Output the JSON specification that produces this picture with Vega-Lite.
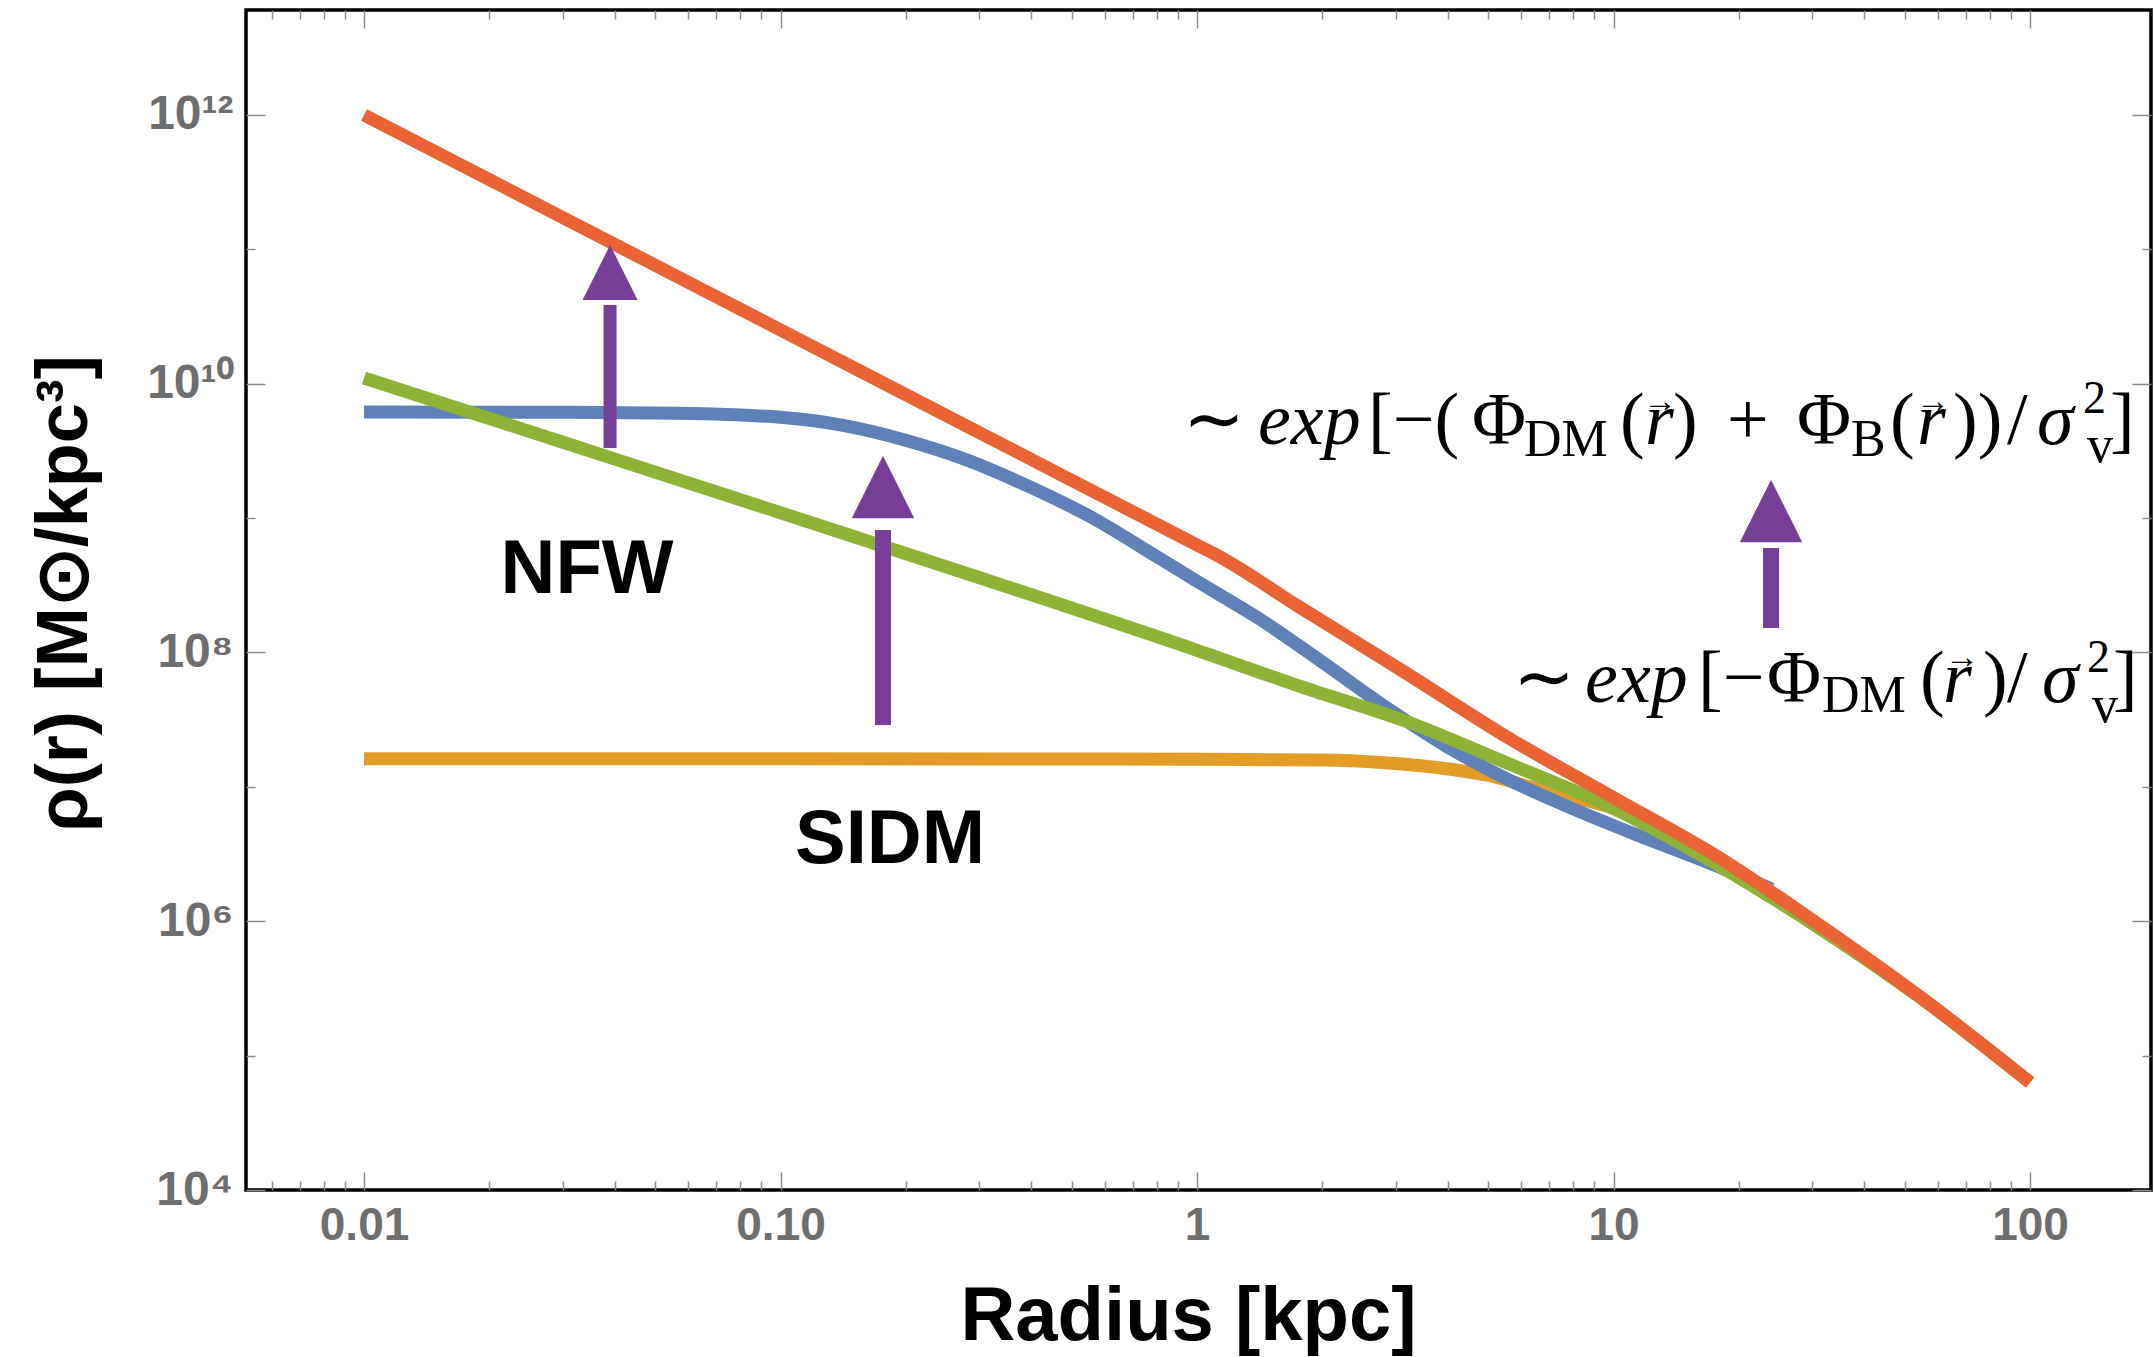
{
  "$schema": "https://vega.github.io/schema/vega-lite/v6.json",
  "width": 1905,
  "height": 1180,
  "autosize": {"type": "none"},
  "padding": {"left": 246, "top": 10, "right": 3, "bottom": 167},
  "background": "white",
  "config": {"view": {"stroke": "black", "strokeWidth": 3.5}, "axis": {"grid": false}},
  "datasets": {
    "curves": [
      {"series": "SIDM", "r": 0.01, "rho": 1.622e7},
      {"series": "SIDM", "r": 0.1, "rho": 1.622e7},
      {"series": "SIDM", "r": 1, "rho": 1.603e7},
      {"series": "SIDM", "r": 1.9953, "rho": 1.585e7},
      {"series": "SIDM", "r": 2.8184, "rho": 1.514e7},
      {"series": "SIDM", "r": 3.9811, "rho": 1.365e7},
      {"series": "SIDM", "r": 5.0119, "rho": 1.216e7},
      {"series": "SIDM", "r": 6.3096, "rho": 1.0e7},
      {"series": "SIDM", "r": 7.9433, "rho": 8.414e6},
      {"series": "SIDM", "r": 10, "rho": 6.918e6},
      {"series": "SIDM", "r": 17.783, "rho": 2.63e6},
      {"series": "SIDM", "r": 31.623, "rho": 8.67e5},
      {"series": "SIDM", "r": 56.234, "rho": 2.523e5},
      {"series": "SIDM", "r": 100, "rho": 6.31e4},
      {"series": "SIDM+baryons", "r": 0.01, "rho": 6.166e9},
      {"series": "SIDM+baryons", "r": 0.031623, "rho": 6.124e9},
      {"series": "SIDM+baryons", "r": 0.056234, "rho": 6.026e9},
      {"series": "SIDM+baryons", "r": 0.1, "rho": 5.623e9},
      {"series": "SIDM+baryons", "r": 0.14125, "rho": 4.898e9},
      {"series": "SIDM+baryons", "r": 0.19953, "rho": 3.802e9},
      {"series": "SIDM+baryons", "r": 0.28184, "rho": 2.692e9},
      {"series": "SIDM+baryons", "r": 0.39811, "rho": 1.698e9},
      {"series": "SIDM+baryons", "r": 0.56234, "rho": 1.0e9},
      {"series": "SIDM+baryons", "r": 0.79433, "rho": 5.248e8},
      {"series": "SIDM+baryons", "r": 1, "rho": 3.388e8},
      {"series": "SIDM+baryons", "r": 1.4125, "rho": 1.778e8},
      {"series": "SIDM+baryons", "r": 1.9953, "rho": 8.511e7},
      {"series": "SIDM+baryons", "r": 2.8184, "rho": 3.981e7},
      {"series": "SIDM+baryons", "r": 3.9811, "rho": 1.995e7},
      {"series": "SIDM+baryons", "r": 5.6234, "rho": 1.122e7},
      {"series": "SIDM+baryons", "r": 7.9433, "rho": 6.918e6},
      {"series": "SIDM+baryons", "r": 11.22, "rho": 4.467e6},
      {"series": "SIDM+baryons", "r": 15.849, "rho": 2.951e6},
      {"series": "SIDM+baryons", "r": 23.988, "rho": 1.738e6},
      {"series": "NFW", "r": 0.01, "rho": 1.104e10},
      {"series": "NFW", "r": 0.031623, "rho": 3.483e9},
      {"series": "NFW", "r": 0.1, "rho": 1.096e9},
      {"series": "NFW", "r": 0.31623, "rho": 3.42e8},
      {"series": "NFW", "r": 1, "rho": 1.038e8},
      {"series": "NFW", "r": 1.7783, "rho": 5.559e7},
      {"series": "NFW", "r": 3.1623, "rho": 3.09e7},
      {"series": "NFW", "r": 5.6234, "rho": 1.479e7},
      {"series": "NFW", "r": 10, "rho": 6.918e6},
      {"series": "NFW", "r": 17.783, "rho": 2.63e6},
      {"series": "NFW", "r": 31.623, "rho": 8.67e5},
      {"series": "NFW", "r": 56.234, "rho": 2.523e5},
      {"series": "NFW", "r": 100, "rho": 6.31e4},
      {"series": "NFW+baryons", "r": 0.01, "rho": 1.0e12},
      {"series": "NFW+baryons", "r": 0.031623, "rho": 1.585e11},
      {"series": "NFW+baryons", "r": 0.1, "rho": 2.512e10},
      {"series": "NFW+baryons", "r": 0.31623, "rho": 3.981e9},
      {"series": "NFW+baryons", "r": 1, "rho": 6.31e8},
      {"series": "NFW+baryons", "r": 1.122, "rho": 5.248e8},
      {"series": "NFW+baryons", "r": 1.7783, "rho": 2.138e8},
      {"series": "NFW+baryons", "r": 3.1623, "rho": 7.079e7},
      {"series": "NFW+baryons", "r": 5.6234, "rho": 2.291e7},
      {"series": "NFW+baryons", "r": 10, "rho": 8.318e6},
      {"series": "NFW+baryons", "r": 17.783, "rho": 3.02e6},
      {"series": "NFW+baryons", "r": 31.623, "rho": 9.12e5},
      {"series": "NFW+baryons", "r": 56.234, "rho": 2.541e5},
      {"series": "NFW+baryons", "r": 100, "rho": 6.31e4}
    ],
    "labels": [
      {"label": "NFW", "r": 0.03431, "rho": 2.773e8},
      {"label": "SIDM", "r": 0.1832, "rho": 2.714e6}
    ],
    "arrows": [
      {"id": 1, "r": 0.03897, "rho0": 3.325e9, "rho1": 3.855e10, "head": 6.73e10},
      {"id": 2, "r": 0.1762, "rho0": 2.887e7, "rho1": 8.157e8, "head": 1.704e9},
      {"id": 3, "r": 23.89, "rho0": 1.521e8, "rho1": 5.996e8, "head": 1.13e9}
    ],
    "formula": [
      {"t": "∼", "k": "up", "r": 0.9256, "rho": 3.562e9},
      {"t": "exp", "k": "it", "r": 1.401, "rho": 3.562e9},
      {"t": "[−(", "k": "up", "r": 2.574, "rho": 3.562e9},
      {"t": "Φ", "k": "up", "r": 4.574, "rho": 3.562e9},
      {"t": "DM", "k": "sub", "r": 6.096, "rho": 2.9e9},
      {"t": "(", "k": "up", "r": 10.36, "rho": 3.562e9},
      {"t": "r", "k": "it", "r": 11.9, "rho": 3.562e9},
      {"t": "→", "k": "vec", "r": 12.93, "rho": 7.314e9},
      {"t": ")", "k": "up", "r": 13.9, "rho": 3.562e9},
      {"t": "+", "k": "up", "r": 18.73, "rho": 3.562e9},
      {"t": "Φ", "k": "up", "r": 27.58, "rho": 3.562e9},
      {"t": "B", "k": "sub", "r": 37.18, "rho": 2.9e9},
      {"t": "(", "k": "up", "r": 46.12, "rho": 3.562e9},
      {"t": "r", "k": "it", "r": 53.55, "rho": 3.562e9},
      {"t": "→", "k": "vec", "r": 58.5, "rho": 7.314e9},
      {"t": "))", "k": "up", "r": 65.35, "rho": 3.562e9},
      {"t": "/", "k": "up", "r": 88.08, "rho": 3.562e9},
      {"t": "σ", "k": "it", "r": 103.9, "rho": 3.562e9},
      {"t": "2", "k": "sup", "r": 134.1, "rho": 6.058e9},
      {"t": "v", "k": "sub", "r": 137.1, "rho": 2.617e9},
      {"t": "]", "k": "up", "r": 155.6, "rho": 3.562e9},
      {"t": "∼", "k": "up", "r": 5.737, "rho": 4.281e7},
      {"t": "exp", "k": "it", "r": 8.544, "rho": 4.281e7},
      {"t": "[−", "k": "up", "r": 15.96, "rho": 4.281e7},
      {"t": "Φ", "k": "up", "r": 23.37, "rho": 4.281e7},
      {"t": "DM", "k": "sub", "r": 31.67, "rho": 3.607e7},
      {"t": "(", "k": "up", "r": 54.45, "rho": 4.281e7},
      {"t": "r", "k": "it", "r": 61.82, "rho": 4.281e7},
      {"t": "→", "k": "vec", "r": 68.65, "rho": 9.1e7},
      {"t": ")", "k": "up", "r": 77.13, "rho": 4.281e7},
      {"t": "/", "k": "up", "r": 88.08, "rho": 4.281e7},
      {"t": "σ", "k": "it", "r": 106.9, "rho": 4.281e7},
      {"t": "2", "k": "sup", "r": 137.1, "rho": 7.158e7},
      {"t": "v", "k": "sub", "r": 140.9, "rho": 3.04e7},
      {"t": "]", "k": "up", "r": 158.2, "rho": 4.281e7}
    ]
  },
  "resolve": {"axis": {"x": "independent", "y": "independent"}},
  "layer": [
    {
      "data": {"name": "curves"},
      "mark": {"type": "line", "strokeWidth": 13, "strokeCap": "butt", "strokeJoin": "round", "interpolate": "monotone"},
      "encoding": {
        "x": {"field": "r", "type": "quantitative", "scale": {"type": "log", "domain": [0.005207, 195.2], "nice": false},
          "axis": {"orient": "bottom", "values": [0.01, 0.1, 1, 10, 100], "ticks": false, "domain": false, "grid": false,
            "labelExpr": "datum.value < 0.05 ? '0.01' : datum.value < 0.5 ? '0.10' : datum.value < 5 ? '1' : datum.value < 50 ? '10' : '100'",
            "labelFont": "Liberation Sans", "labelFontWeight": "bold", "labelFontSize": 46, "labelColor": "#6e6e6e", "labelPadding": 13,
            "labelFlush": false, "labelOverlap": false,
            "title": "Radius [kpc]", "titleFont": "Liberation Sans", "titleFontWeight": "bold", "titleFontSize": 76, "titleColor": "#000000",
            "titleX": 942, "titleY": 149, "titleBaseline": "alphabetic", "titleAlign": "center"}},
        "y": {"field": "rho", "type": "quantitative", "scale": {"type": "log", "domain": [10000, 6.04e12], "nice": false},
          "axis": {"orient": "left", "values": [10000, 1000000, 100000000, 10000000000, 1000000000000], "ticks": false, "domain": false, "grid": false,
            "labelExpr": "datum.value < 1e5 ? '10⁴' : datum.value < 1e7 ? '10⁶' : datum.value < 1e9 ? '10⁸' : datum.value < 1e11 ? '10¹⁰' : '10¹²'",
            "labelFont": "Liberation Sans", "labelFontWeight": "bold", "labelFontSize": 48, "labelColor": "#6e6e6e", "labelPadding": 13,
            "labelFlush": false, "labelOverlap": false, "labelBaseline": "middle",
            "title": "ρ(r) [M⊙/kpc³]", "titleFont": "Liberation Sans", "titleFontWeight": "bold", "titleFontSize": 72, "titleColor": "#000000",
            "titleX": -160, "titleY": 583, "titleAngle": 270, "titleBaseline": "alphabetic", "titleAlign": "center"}},
        "color": {"field": "series", "type": "nominal",
          "scale": {"domain": ["SIDM", "SIDM+baryons", "NFW", "NFW+baryons"], "range": ["#E39D26", "#5E81B8", "#8DB236", "#EB6335"]},
          "legend": null}
      }
    },
    {
      "data": {"name": "labels"},
      "mark": {"type": "text", "font": "Liberation Sans", "fontWeight": "bold", "fontSize": 76, "align": "center", "baseline": "alphabetic", "color": "#000000"},
      "encoding": {
        "x": {"field": "r", "type": "quantitative", "scale": {"type": "log", "domain": [0.005207, 195.2], "nice": false},
          "axis": {"orient": "bottom", "values": [0.01, 0.1, 1, 10, 100], "labels": false, "domain": false, "grid": false, "title": null, "tickSize": -18, "tickWidth": 1.5, "tickColor": "#8c8c8c"}},
        "y": {"field": "rho", "type": "quantitative", "scale": {"type": "log", "domain": [10000, 6.04e12], "nice": false},
          "axis": {"orient": "left", "values": [10000, 1000000, 100000000, 10000000000, 1000000000000], "labels": false, "domain": false, "grid": false, "title": null, "tickSize": -19, "tickWidth": 1.5, "tickColor": "#8c8c8c"}},
        "text": {"field": "label"}
      }
    },
    {
      "data": {"name": "arrows"},
      "transform": [{"filter": "datum.id != 1"}],
      "mark": {"type": "rule", "strokeWidth": 16, "strokeCap": "butt", "color": "#783F99"},
      "encoding": {
        "x": {"field": "r", "type": "quantitative", "scale": {"type": "log", "domain": [0.005207, 195.2], "nice": false},
          "axis": {"orient": "bottom", "values": [0.006, 0.007, 0.008, 0.009, 0.02, 0.03, 0.04, 0.05, 0.06, 0.07, 0.08, 0.09, 0.2, 0.3, 0.4, 0.5, 0.6, 0.7, 0.8, 0.9, 2, 3, 4, 5, 6, 7, 8, 9, 20, 30, 40, 50, 60, 70, 80, 90], "labels": false, "domain": false, "grid": false, "title": null, "tickSize": -9, "tickWidth": 1.5, "tickColor": "#8c8c8c"}},
        "y": {"field": "rho0", "type": "quantitative", "scale": {"type": "log", "domain": [10000, 6.04e12], "nice": false},
          "axis": {"orient": "left", "values": [100000, 10000000, 1000000000, 100000000000], "labels": false, "domain": false, "grid": false, "title": null, "tickSize": -9, "tickWidth": 1.5, "tickColor": "#8c8c8c"}},
        "y2": {"field": "rho1"}
      }
    },
    {
      "data": {"name": "arrows"},
      "transform": [{"filter": "datum.id == 1"}],
      "mark": {"type": "rule", "strokeWidth": 13, "strokeCap": "butt", "color": "#783F99"},
      "encoding": {
        "x": {"field": "r", "type": "quantitative", "scale": {"type": "log", "domain": [0.005207, 195.2], "nice": false},
          "axis": {"orient": "top", "values": [0.01, 0.1, 1, 10, 100], "labels": false, "domain": false, "grid": false, "title": null, "tickSize": -18, "tickWidth": 1.5, "tickColor": "#8c8c8c"}},
        "y": {"field": "rho0", "type": "quantitative", "scale": {"type": "log", "domain": [10000, 6.04e12], "nice": false},
          "axis": {"orient": "right", "values": [10000, 1000000, 100000000, 10000000000, 1000000000000], "labels": false, "domain": false, "grid": false, "title": null, "tickSize": -19, "tickWidth": 1.5, "tickColor": "#8c8c8c"}},
        "y2": {"field": "rho1"}
      }
    },
    {
      "data": {"name": "arrows"},
      "transform": [{"filter": "datum.id != 1"}],
      "mark": {"type": "point", "shape": "M-1,1L0,-1L1,1Z", "filled": true, "size": 3900, "opacity": 1, "strokeWidth": 0, "color": "#783F99"},
      "encoding": {
        "x": {"field": "r", "type": "quantitative", "scale": {"type": "log", "domain": [0.005207, 195.2], "nice": false},
          "axis": {"orient": "top", "values": [0.006, 0.007, 0.008, 0.009, 0.02, 0.03, 0.04, 0.05, 0.06, 0.07, 0.08, 0.09, 0.2, 0.3, 0.4, 0.5, 0.6, 0.7, 0.8, 0.9, 2, 3, 4, 5, 6, 7, 8, 9, 20, 30, 40, 50, 60, 70, 80, 90], "labels": false, "domain": false, "grid": false, "title": null, "tickSize": -9, "tickWidth": 1.5, "tickColor": "#8c8c8c"}},
        "y": {"field": "head", "type": "quantitative", "scale": {"type": "log", "domain": [10000, 6.04e12], "nice": false},
          "axis": {"orient": "right", "values": [100000, 10000000, 1000000000, 100000000000], "labels": false, "domain": false, "grid": false, "title": null, "tickSize": -9, "tickWidth": 1.5, "tickColor": "#8c8c8c"}}
      }
    },
    {
      "data": {"name": "arrows"},
      "transform": [{"filter": "datum.id == 1"}],
      "mark": {"type": "point", "shape": "M-1,1L0,-1L1,1Z", "filled": true, "size": 3025, "opacity": 1, "strokeWidth": 0, "color": "#783F99"},
      "encoding": {
        "x": {"field": "r", "type": "quantitative", "scale": {"type": "log", "domain": [0.005207, 195.2], "nice": false}, "axis": null},
        "y": {"field": "head", "type": "quantitative", "scale": {"type": "log", "domain": [10000, 6.04e12], "nice": false}, "axis": null}
      }
    },
    {
      "data": {"name": "formula"},
      "transform": [{"filter": "datum.k == 'up'"}],
      "mark": {"type": "text", "font": "Liberation Serif", "fontSize": 74, "align": "left", "baseline": "alphabetic", "color": "#000000"},
      "encoding": {
        "x": {"field": "r", "type": "quantitative", "scale": {"type": "log", "domain": [0.005207, 195.2], "nice": false}, "axis": null},
        "y": {"field": "rho", "type": "quantitative", "scale": {"type": "log", "domain": [10000, 6.04e12], "nice": false}, "axis": null},
        "text": {"field": "t"}
      }
    },
    {
      "data": {"name": "formula"},
      "transform": [{"filter": "datum.k == 'it'"}],
      "mark": {"type": "text", "font": "Liberation Serif", "fontStyle": "italic", "fontSize": 74, "align": "left", "baseline": "alphabetic", "color": "#000000"},
      "encoding": {
        "x": {"field": "r", "type": "quantitative", "scale": {"type": "log", "domain": [0.005207, 195.2], "nice": false}, "axis": null},
        "y": {"field": "rho", "type": "quantitative", "scale": {"type": "log", "domain": [10000, 6.04e12], "nice": false}, "axis": null},
        "text": {"field": "t"}
      }
    },
    {
      "data": {"name": "formula"},
      "transform": [{"filter": "datum.k == 'sub'"}],
      "mark": {"type": "text", "font": "Liberation Serif", "fontSize": 52, "align": "left", "baseline": "alphabetic", "color": "#000000"},
      "encoding": {
        "x": {"field": "r", "type": "quantitative", "scale": {"type": "log", "domain": [0.005207, 195.2], "nice": false}, "axis": null},
        "y": {"field": "rho", "type": "quantitative", "scale": {"type": "log", "domain": [10000, 6.04e12], "nice": false}, "axis": null},
        "text": {"field": "t"}
      }
    },
    {
      "data": {"name": "formula"},
      "transform": [{"filter": "datum.k == 'sup'"}],
      "mark": {"type": "text", "font": "Liberation Serif", "fontSize": 46, "align": "left", "baseline": "alphabetic", "color": "#000000"},
      "encoding": {
        "x": {"field": "r", "type": "quantitative", "scale": {"type": "log", "domain": [0.005207, 195.2], "nice": false}, "axis": null},
        "y": {"field": "rho", "type": "quantitative", "scale": {"type": "log", "domain": [10000, 6.04e12], "nice": false}, "axis": null},
        "text": {"field": "t"}
      }
    },
    {
      "data": {"name": "formula"},
      "transform": [{"filter": "datum.k == 'vec'"}],
      "mark": {"type": "text", "font": "Liberation Serif", "fontSize": 34, "align": "center", "baseline": "middle", "color": "#000000"},
      "encoding": {
        "x": {"field": "r", "type": "quantitative", "scale": {"type": "log", "domain": [0.005207, 195.2], "nice": false}, "axis": null},
        "y": {"field": "rho", "type": "quantitative", "scale": {"type": "log", "domain": [10000, 6.04e12], "nice": false}, "axis": null},
        "text": {"field": "t"}
      }
    }
  ]
}
